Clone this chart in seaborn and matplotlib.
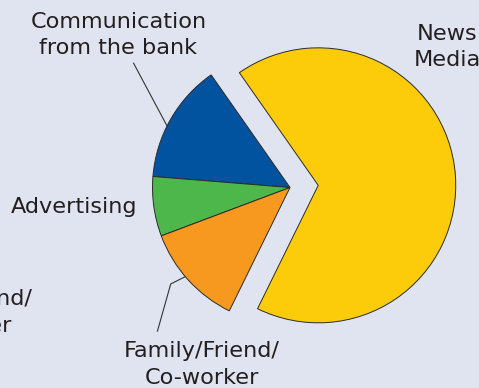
import numpy as np
import matplotlib
matplotlib.use("Agg")
import matplotlib.pyplot as plt
import seaborn as sns

# Where people first heard the news (share of respondents, %)
categories = ["News\nMedia", "Communication\nfrom the bank", "Advertising", "Family/Friend/\nCo-worker"]
shares = [67, 14, 7, 12]
slice_colors = ["#fccb0a", "#02539f", "#4eb74b", "#f7991f"]

W, H = 479, 388
BG = "#dfe4f0"
INK = "#231f20"

sns.set_style("white", {"axes.facecolor": BG, "figure.facecolor": BG})
plt.rcParams["font.family"] = ["DejaVu Sans"]

fig = plt.figure(figsize=(W / 100, H / 100), dpi=100)
ax = fig.add_axes([0, 0, 1, 1])
ax.set_facecolor(BG)

def Y(y):
    """Top-down pixel row to axis y."""
    return H - y

cx, cy, R = 290, Y(187.5), 137.5
palette = sns.color_palette(slice_colors)
wedges, _ = ax.pie(
    shares,
    colors=palette,
    startangle=-116.2,
    counterclock=True,
    explode=[0.206 * R, 0, 0, 0],
    radius=R,
    center=(cx, cy),
    wedgeprops=dict(edgecolor="#2b2b2b", linewidth=0.7),
)

ax.set_xlim(0, W)
ax.set_ylim(0, H)
ax.set_aspect("equal")
ax.axis("off")

FS = 16.1
LINE = 26.5

def label(text, xc, first_baseline):
    for i, line in enumerate(text.split("\n")):
        ax.text(xc, Y(first_baseline + i * LINE), line, ha="center", va="baseline",
                fontsize=FS, color=INK, clip_on=False)

label(categories[0], 447, 39.5)
label(categories[1], 118.5, 27.5)
label(categories[2], 74, 213.3)
label(categories[3], 202, 357)
label(categories[3], -45, 305)

def edge_point(deg):
    a = np.deg2rad(deg)
    return cx + R * np.cos(a), cy + R * np.sin(a)

# leader lines
ex, ey = edge_point(153.4)
ax.plot([133.3, ex], [Y(62.7), ey], color="#333333", lw=0.8, solid_capstyle="butt")
ex, ey = edge_point(220.4)
ax.plot([157.3, 170.7, ex], [Y(331.7), Y(284), ey], color="#333333", lw=0.8,
        solid_capstyle="butt", solid_joinstyle="miter")

fig.savefig("out.png", dpi=100, facecolor=BG)
